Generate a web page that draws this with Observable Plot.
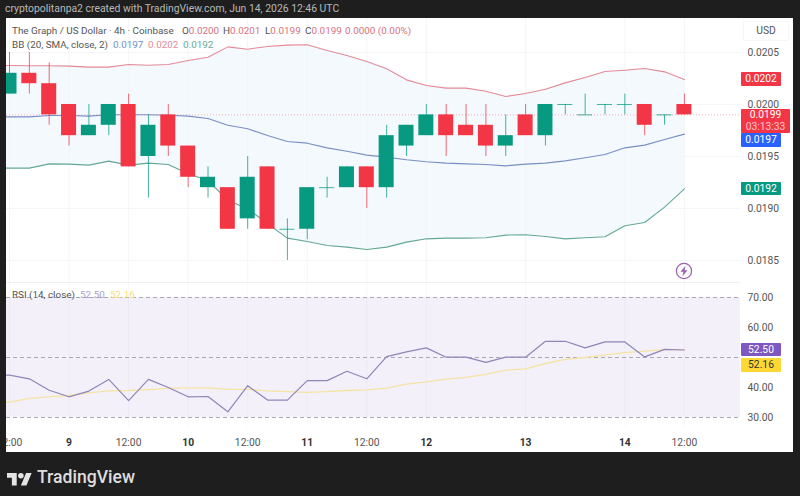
<!DOCTYPE html>
<html><head><meta charset="utf-8">
<script src="https://cdn.jsdelivr.net/npm/d3@7"></script>
<script src="https://cdn.jsdelivr.net/npm/@observablehq/plot@0.6"></script>
<style>
html,body{margin:0;padding:0;width:800px;height:496px;overflow:hidden;background:#1e1e1e;font-family:Roboto,sans-serif}
#panel{position:absolute;left:6px;top:18px;width:787px;height:434px;background:#fff;overflow:hidden}
#price,#rsi{position:absolute;left:0}
#price{top:0}#rsi{top:264px}
#price svg,#rsi svg{display:block;background:transparent}
.t{position:absolute;white-space:nowrap;line-height:14px;font-size:9.9px}
.tag{position:absolute;left:735px;width:40px;height:13.5px;line-height:13.5px;text-align:center;color:#fff;font-size:10.3px;border-radius:1px}
</style></head><body>
<div class="t" style="left:5px;top:2px;color:#b9b9b9;font-size:10.4px">cryptopolitanpa2 created with TradingView.com, Jun 14, 2026 12:46 UTC</div>
<div id="panel">
  <div id="price"></div><div id="rsi"></div>
  <div class="t" style="left:6px;top:6px;color:#555">The Graph / US Dollar · 4h · Coinbase</div>
  <div class="t" style="left:6px;top:20px;color:#555">BB (20, SMA, close, 2)</div>
  <div class="t" style="left:107px;top:20px;color:#6f93c9">0.0197</div>
  <div class="t" style="left:142px;top:20px;color:#e08a96">0.0202</div>
  <div class="t" style="left:177px;top:20px;color:#63ae98">0.0192</div>
  <div class="t" style="left:6px;top:270px;color:#555">RSI (14, close)</div>
  <div class="t" style="left:74px;top:270px;color:#a79fcb">52.50</div>
  <div class="t" style="left:104px;top:270px;color:#f3df7d">52.16</div>
  <div class="t" style="left:737px;top:3px;width:46px;height:20px;line-height:20px;text-align:center;color:#555;font-size:10.3px;box-shadow:0 0 0 1px #f6f6f6 inset">USD</div>
  <svg style="position:absolute;left:668px;top:243px" width="20" height="20" viewBox="0 0 20 20"><circle cx="10" cy="10" r="7.6" fill="#fff" stroke="#9a63ad" stroke-width="1.3"/><path d="M11.6 4.8 6.4 10.8h3l-1 4.4 5.2-6h-3z" fill="#9a63ad"/></svg>
</div>
<svg style="position:absolute;left:7px;top:470px" width="25" height="17" viewBox="0 0 36 24"><path fill="#e4e4e4" d="M14 22H7V11H0V4h14v18zM28 22h-8l7.5-18h8L28 22z"/><circle cx="20" cy="8" r="4" fill="#e4e4e4"/></svg>
<div class="t" style="left:37px;top:466px;line-height:22px;color:#dedede;font-size:17.6px;font-weight:500">TradingView</div>
<script>
const opens  = [.0201,.0203,.0202,.0200,.0197,.0198,.0200,.0195,.0199,.0196,.0192,.0192,.0189,.0194,.0188,.0188,.0192,.0192,.0194,.0192,.0196,.0197,.0199,.0198,.0198,.0196,.0199,.0197,.0200,.0199,.0200,.0200,.0200,.0199,.0200];
const closes = [.0203,.0202,.0199,.0197,.0198,.0200,.0194,.0198,.0196,.0193,.0193,.0188,.0193,.0188,.0188,.0192,.0192,.0194,.0192,.0197,.0198,.0199,.0197,.0197,.0196,.0197,.0197,.0200,.0200,.0199,.0200,.0200,.0198,.0199,.0199];
const highs  = [.0205,.0205,.0204,.0200,.0200,.0200,.0201,.0199,.0200,.0196,.0194,.0192,.0195,.0194,.0189,.0192,.0193,.0194,.0194,.0198,.0198,.0200,.0200,.0200,.0200,.0199,.0200,.0200,.0200,.0201,.0200,.0201,.0200,.0199,.0201];
const lows   = [.0201,.0201,.0198,.0196,.0197,.0197,.0194,.0191,.0195,.0192,.0191,.0188,.0188,.0188,.0185,.0187,.0191,.0192,.0190,.0191,.0195,.0197,.0195,.0197,.0195,.0195,.0197,.0196,.0199,.0199,.0199,.0199,.0197,.0198,.0199];
// bands and RSI start one bar before the first visible candle
const bbUpper = [.020375,.020375,.020372,.020372,.020369,.020359,.020359,.020385,.020378,.020385,.020423,.020455,.020554,.020532,.020558,.020571,.020574,.020519,.020471,.020413,.020343,.020237,.020183,.020157,.020157,.020128,.020077,.020106,.020147,.020208,.020260,.020317,.020330,.020346,.020314,.020240];
const bbMid   = [.019881,.019881,.019881,.019894,.019894,.019888,.019901,.019901,.019901,.019897,.019888,.019865,.019801,.019766,.019702,.019644,.019628,.019583,.019551,.019513,.019494,.019468,.019449,.019436,.019429,.019423,.019410,.019426,.019436,.019458,.019487,.019519,.019583,.019609,.019663,.019715];
const bbLower = [.019388,.019388,.019388,.019429,.019426,.019417,.019455,.019417,.019436,.019423,.019333,.019269,.019077,.018997,.018853,.018715,.018683,.018644,.018628,.018606,.018628,.018676,.018708,.018715,.018715,.018718,.018744,.018747,.018731,.018708,.018718,.018728,.018833,.018865,.019013,.019189];
const rsiLine = [44.3,44.1,42.9,39.1,36.9,38.8,42.7,35.6,42.7,40.0,36.9,37.0,31.9,40.6,35.8,35.8,42.3,42.3,45.4,42.9,50.3,51.9,53.2,50.1,50.1,48.4,50.1,50.1,55.4,55.4,53.2,55.2,55.2,50.2,52.7,52.5];
const rsiMa   = [35.0,35.1,36.4,36.9,37.4,38.2,38.9,39.0,39.3,39.7,39.9,39.9,39.4,39.4,38.9,38.6,38.4,38.6,39.0,39.2,39.8,41.1,41.9,42.8,43.4,44.4,45.8,46.2,48.0,49.4,50.0,50.9,51.6,52.1,52.6,52.6];
const priceTicks = [.0185,.0190,.0195,.0200,.0205];
const rsiTicks = [30,40,60,70];
const dayTicks = [3,9,15,21,26,31];
const dayLabels = ["9","10","11","12","13","14"];
const hourTicks = [0,6,12,18,34];
const hourLabels = ["12:00","12:00","12:00","12:00","12:00"];
const lastClose = .0199;
const priceTags = [{v:.02024,s:"0.0202",bg:"#f23645"},{v:.019715,s:"0.0197",bg:"#2962ff",shift:6.5},{v:.019189,s:"0.0192",bg:"#089981"}];
const rsiTags = [{v:52.5,s:"52.50",bg:"#7e57c2",c:"#fff"},{v:52.16,s:"52.16",bg:"#fdd835",c:"#333",shift:14.5}];
const ohlc = [["O","0.0200",176],["H","0.0201",217],["L","0.0199",259],["C","0.0199",299],["","0.0000 (0.00%)",339]];
const GREEN="#089981",RED="#f23645",GRID="#f3f5f8",AXIS="#555";

const panel=document.getElementById("panel");
ohlc.forEach(([k,v,left])=>{
  const el=document.createElement("div");el.className="t";
  el.style.cssText=`left:${left}px;top:6px;color:#d9707f`;
  el.innerHTML=`<span style="color:#555">${k}</span>${v}`;
  panel.append(el);
});

const W=787, CHART_R=734, PX_BAR=19.85, X0=3;
const xDomain=[-X0/PX_BAR,(CHART_R-X0)/PX_BAR];
const halfBody=.378;
const candles=opens.map((o,i)=>({i,o,c:closes[i],h:highs[i],l:lows[i],col:closes[i]>=o?GREEN:RED}));
const bars=bbUpper.map((u,k)=>({i:k-1,u,m:bbMid[k],lo:bbLower[k],r:rsiLine[k],a:rsiMa[k]}));
const gridTicks=[...dayTicks,...hourTicks];
const font={fontFamily:'Roboto,sans-serif',fontSize:"10.3px",background:"transparent",overflow:"hidden"};

const pricePlot=Plot.plot({
  width:W,height:264,marginLeft:0,marginRight:W-CHART_R,marginTop:0,marginBottom:0,style:font,
  x:{domain:xDomain,axis:null,label:null},
  y:{domain:[.018288,.020827],axis:null,label:null},
  marks:[
    Plot.ruleY(priceTicks,{stroke:GRID}),
    Plot.areaY(bars,{x:"i",y1:"lo",y2:"u",fill:"#f3f9fd"}),
    Plot.ruleX(gridTicks,{stroke:GRID}),
    Plot.ruleY([lastClose],{stroke:RED,strokeOpacity:.4,strokeDasharray:"1,2"}),
    Plot.line(bars,{x:"i",y:"u",stroke:"#e58a96",strokeWidth:1.1}),
    Plot.line(bars,{x:"i",y:"m",stroke:"#7a8fc4",strokeWidth:1.1}),
    Plot.line(bars,{x:"i",y:"lo",stroke:"#62a895",strokeWidth:1.1}),
    Plot.ruleX(candles,{x:"i",y1:"l",y2:"h",stroke:"col",strokeWidth:1,strokeOpacity:.75}),
    Plot.rect(candles.filter(d=>d.o!==d.c),{x1:d=>d.i-halfBody,x2:d=>d.i+halfBody,y1:"o",y2:"c",fill:"col"}),
    Plot.ruleY(candles.filter(d=>d.o===d.c),{x1:d=>d.i-halfBody,x2:d=>d.i+halfBody,y:"c",stroke:"col",strokeOpacity:.75}),
    Plot.axisY(priceTicks,{anchor:"right",tickSize:0,tickPadding:7,tickFormat:d3.format(".4f"),fill:AXIS,label:null})
  ]
});
document.getElementById("price").append(pricePlot);

const rsiPlot=Plot.plot({
  width:W,height:170,marginLeft:0,marginRight:W-CHART_R,marginTop:0,marginBottom:25,style:font,
  x:{domain:xDomain,axis:null,label:null},
  y:{domain:[26.667,75],axis:null,label:null},
  marks:[
    Plot.rect([0],{y1:()=>30,y2:()=>70,fill:"#7e57c2",fillOpacity:.09}),
    Plot.ruleX(gridTicks,{stroke:"#7e57c2",strokeOpacity:.04}),
    Plot.ruleY([70,50,30],{stroke:"#a9a9b3",strokeDasharray:"4,3"}),
    Plot.ruleY([75],{stroke:"#f0f0f0"}),
    Plot.line(bars,{x:"i",y:"a",stroke:"#f6e3a4",strokeWidth:1.3}),
    Plot.line(bars,{x:"i",y:"r",stroke:"#8e86b8",strokeWidth:1.2}),
    Plot.axisY(rsiTicks,{anchor:"right",tickSize:0,tickPadding:7,tickFormat:d3.format(".2f"),fill:AXIS,label:null}),
    Plot.axisX(hourTicks,{anchor:"bottom",tickSize:0,tickPadding:11,tickFormat:(d,i)=>hourLabels[i],fill:AXIS,label:null}),
    Plot.axisX(dayTicks,{anchor:"bottom",tickSize:0,tickPadding:11,tickFormat:(d,i)=>dayLabels[i],fill:"#333",fontWeight:"bold",label:null})
  ]
});
document.getElementById("rsi").append(rsiPlot);

// value tags on the right axis, placed through the charts' own y scales
function addTag(t,scale,top){
  const el=document.createElement("div");el.className="tag";el.textContent=t.s;
  el.style.background=t.bg;el.style.color=t.c||"#fff";
  el.style.top=(top+scale.apply(t.v)+(t.shift||0)-6.75)+"px";
  panel.append(el);
}
const yP=pricePlot.scale("y"),yR=rsiPlot.scale("y");
priceTags.forEach(t=>addTag(t,yP,0));
rsiTags.forEach(t=>addTag(t,yR,264));
const lastY=yP.apply(lastClose);
const box=document.createElement("div");box.className="tag";
box.style.cssText=`top:${lastY-5.8}px;width:49px;height:24.5px;line-height:12px;background:#f23645;box-sizing:border-box`;
box.innerHTML='0.0199<br><span style="color:#ffc4ca">03:13:33</span>';
panel.append(box);
</script>
</body></html>
